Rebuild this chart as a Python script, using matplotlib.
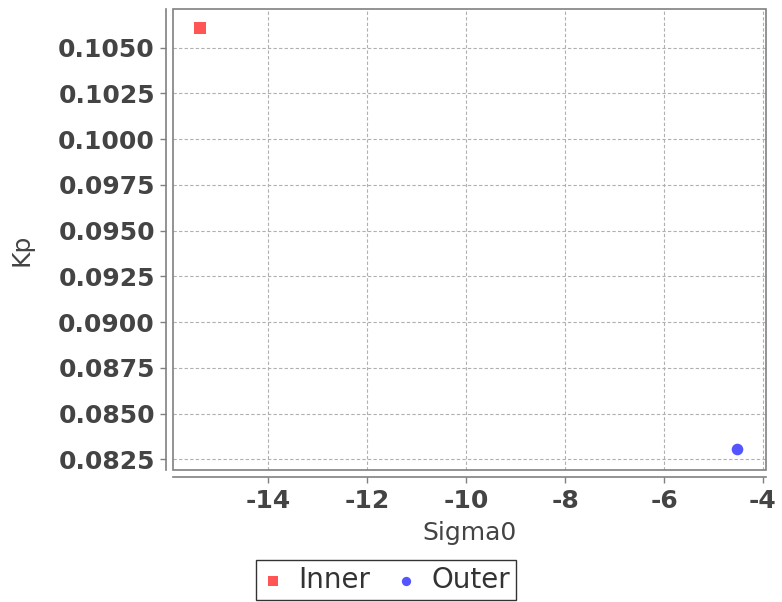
import matplotlib.pyplot as plt
from matplotlib.patches import Rectangle

# values
series = ['Inner', 'Outer']
sigma0 = [-15.37, -4.52]
kp = [0.10608, 0.08306]
colors = ['#FF5555', '#5555FF']
markers = ['s', 'o']

xticks = [-14, -12, -10, -8, -6, -4]
yticks = [0.0825, 0.0850, 0.0875, 0.0900, 0.0925, 0.0950,
          0.0975, 0.1000, 0.1025, 0.1050]

W, H = 782, 602
fig = plt.figure(figsize=(W / 100, H / 100), dpi=100)
ax = fig.add_axes([0.2212, 0.2193, 0.7583, 0.7657])

for name, x, y, c, m in zip(series, sigma0, kp, colors, markers):
    ax.scatter([x], [y], color=c, marker=m, s=70, label=name, zorder=3, linewidths=0)

ax.set_xlim(-15.92, -3.94)
ax.set_ylim(0.08192, 0.10711)
ax.set_xticks(xticks)
ax.set_yticks(yticks)
ax.set_xticklabels([str(t) for t in xticks])
ax.set_yticklabels(['%.4f' % t for t in yticks])

ax.grid(True, color='#b0b0b0', linestyle=(0, (3, 2)), linewidth=0.8)
ax.set_axisbelow(True)

for s in ['top', 'right']:
    ax.spines[s].set_visible(False)
for s in ['left', 'bottom']:
    ax.spines[s].set_position(('outward', 5))
    ax.spines[s].set_color('#808080')
    ax.spines[s].set_linewidth(1.2)

ax.add_patch(Rectangle((0, 0), 1, 1, transform=ax.transAxes, fill=False,
                       edgecolor='#808080', linewidth=1.2, clip_on=False, zorder=4))

ax.tick_params(axis='both', colors='#808080', length=4, width=1.0,
               labelcolor='#444444', labelsize=18)
ax.tick_params(axis='x', pad=5)
ax.tick_params(axis='y', pad=4)
for lab in ax.get_xticklabels() + ax.get_yticklabels():
    lab.set_fontweight('bold')

# axis titles placed in figure pixels
fig.text(470 / W, 1 - 533 / H, 'Sigma0', fontsize=18, color='#444444',
         ha='center', va='center')
fig.text(22 / W, 1 - 250 / H, 'Kp', fontsize=18, color='#444444',
         ha='center', va='center', rotation=90)

leg = fig.legend(loc='center', bbox_to_anchor=(386 / W, 1 - 580 / H), ncol=2,
                 fontsize=20, frameon=True, fancybox=False, handletextpad=0.5,
                 columnspacing=0.9, handlelength=0.8, borderpad=0.2,
                 markerscale=0.8)
leg.get_frame().set_edgecolor('black')
leg.get_frame().set_linewidth(1.0)
for t in leg.get_texts():
    t.set_color('#333333')

fig.savefig('out.png', dpi=100)
